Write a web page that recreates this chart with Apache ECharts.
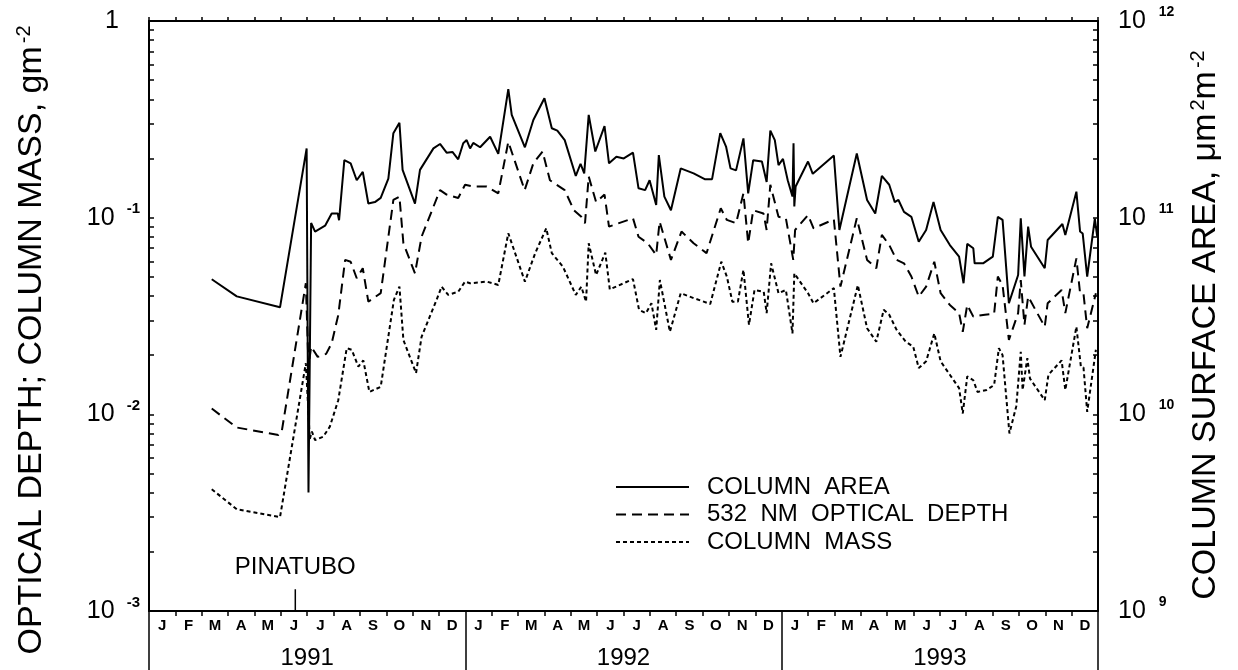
<!DOCTYPE html>
<html><head><meta charset="utf-8">
<script src="https://cdn.jsdelivr.net/npm/echarts@6/dist/echarts.min.js"></script>
<style>html,body{margin:0;padding:0;background:#fff}#c{width:1238px;height:670px}</style>
</head><body><div id="c"></div>
<script>
// ---- data (x = months since 1 Jan 1991) ----
const months = ['J','F','M','A','M','J','J','A','S','O','N','D'];
const years = ['1991','1992','1993'];
const leftDecades = [0.001, 0.01, 0.1, 1];
const rightDecades = [1e9, 1e10, 1e11, 1e12];

const areaMonth = [2.38,3.33,4.97,5.98,6.05,6.15,6.30,6.68,6.93,7.16,7.21,7.41,7.65,7.88,8.11,8.32,8.57,8.79,9.08,9.27,9.50,9.62,10.09,10.28,10.79,11.04,11.29,11.51,11.73,11.92,12.05,12.18,12.30,12.56,12.94,13.25,13.63,13.76,14.26,14.58,15.00,15.28,15.49,15.77,16.19,16.37,16.51,16.68,16.93,17.28,17.45,17.73,18.01,18.36,18.57,18.82,18.99,19.24,19.34,19.55,19.80,20.17,20.66,21.08,21.36,21.67,21.89,22.06,22.27,22.55,22.73,22.92,23.25,23.43,23.57,23.74,23.88,24.05,24.23,24.41,24.45,24.48,24.53,25.00,25.18,25.98,26.19,26.85,27.24,27.55,27.80,28.08,28.29,28.43,28.64,28.92,29.20,29.48,29.76,30.03,30.38,30.73,30.90,31.04,31.27,31.32,31.64,32.01,32.20,32.38,32.62,32.97,33.07,33.21,33.35,33.46,33.98,34.09,34.65,34.76,35.18,35.32,35.42,35.59,35.88,35.97];
const areaValue = [4.86e10,3.98e10,3.50e10,2.25e11,4.0e9,9.4e10,8.5e10,9.1e10,1.05e11,1.05e11,9.7e10,1.96e11,1.89e11,1.55e11,1.71e11,1.18e11,1.20e11,1.26e11,1.58e11,2.69e11,3.04e11,1.75e11,1.18e11,1.75e11,2.25e11,2.37e11,2.14e11,2.16e11,1.98e11,2.39e11,2.48e11,2.25e11,2.40e11,2.28e11,2.58e11,2.11e11,4.50e11,3.33e11,2.28e11,3.14e11,4.05e11,2.85e11,2.77e11,2.48e11,1.63e11,1.88e11,1.68e11,3.33e11,2.17e11,2.92e11,1.89e11,2.04e11,2.00e11,2.14e11,1.41e11,1.38e11,1.55e11,1.16e11,2.08e11,1.28e11,1.09e11,1.78e11,1.68e11,1.57e11,1.57e11,2.69e11,2.30e11,1.78e11,1.74e11,2.53e11,1.33e11,1.96e11,1.93e11,1.52e11,2.77e11,2.48e11,1.85e11,1.99e11,1.55e11,1.28e11,2.39e11,1.14e11,1.44e11,1.93e11,1.67e11,2.07e11,8.66e10,2.12e11,1.23e11,1.05e11,1.63e11,1.47e11,1.20e11,1.23e11,1.07e11,1.01e11,7.55e10,8.66e10,1.20e11,8.66e10,7.26e10,6.34e10,4.64e10,7.36e10,6.99e10,5.86e10,5.86e10,6.34e10,1.01e11,9.74e10,3.67e10,5.11e10,9.93e10,5.02e10,9.00e10,7.12e10,5.53e10,7.70e10,9.29e10,8.17e10,1.356e11,8.50e10,8.30e10,5.02e10,9.90e10,8.0e10];

const depthMonth = [2.38,3.33,4.91,5.03,5.95,6.05,6.15,6.40,6.72,6.93,7.18,7.44,7.65,7.88,8.11,8.32,8.79,9.27,9.50,9.65,10.09,10.34,11.04,11.29,11.73,11.99,12.30,12.81,13.25,13.63,14.25,14.58,14.93,15.21,15.77,16.12,16.40,16.54,16.68,16.96,17.28,17.45,18.36,18.57,18.92,19.24,19.37,19.80,20.20,20.66,21.15,21.69,21.92,22.27,22.55,22.73,22.92,23.31,23.43,23.57,23.88,24.16,24.44,24.51,25.00,25.21,25.98,26.23,26.85,27.24,27.59,27.80,28.08,28.36,28.64,28.92,29.20,29.48,29.79,30.03,30.38,30.73,30.87,31.04,31.27,31.71,32.06,32.20,32.38,32.62,32.97,33.07,33.21,33.35,33.98,34.09,34.62,34.76,35.18,35.32,35.45,35.59,35.92];
const depthValue = [0.0107,0.00857,0.00786,0.0081,0.0464,0.0175,0.0221,0.0196,0.0203,0.023,0.032,0.061,0.0597,0.0492,0.0553,0.0374,0.0413,0.123,0.128,0.0741,0.0521,0.080,0.138,0.131,0.126,0.147,0.144,0.144,0.133,0.243,0.138,0.189,0.217,0.155,0.138,0.109,0.101,0.0937,0.162,0.120,0.131,0.090,0.0993,0.080,0.0741,0.0646,0.0956,0.061,0.085,0.0741,0.066,0.1116,0.0974,0.0937,0.133,0.0741,0.109,0.105,0.0866,0.147,0.101,0.0993,0.061,0.0866,0.103,0.0883,0.098,0.0446,0.0993,0.061,0.0553,0.0817,0.0726,0.061,0.0586,0.0502,0.0397,0.0446,0.0597,0.0413,0.036,0.0327,0.0263,0.036,0.0314,0.0321,0.0325,0.0502,0.0454,0.0239,0.0327,0.0482,0.0285,0.0397,0.0279,0.0367,0.0429,0.0327,0.0621,0.0413,0.041,0.0274,0.0413];

const massMonth = [2.38,3.33,4.97,5.95,6.10,6.18,6.30,6.61,6.86,7.18,7.50,7.69,7.94,8.13,8.36,8.79,9.29,9.50,9.65,10.13,10.34,10.91,11.10,11.35,11.73,11.99,12.18,12.81,13.25,13.63,14.26,14.65,15.07,15.28,15.70,16.19,16.40,16.58,16.68,16.96,17.31,17.48,18.36,18.59,18.85,19.06,19.24,19.38,19.76,20.17,20.66,21.29,21.71,21.92,22.13,22.34,22.55,22.76,22.97,23.32,23.43,23.60,23.88,24.16,24.41,24.48,25.00,25.21,25.98,26.23,26.89,27.24,27.59,27.87,28.08,28.36,28.71,28.99,29.20,29.48,29.79,30.03,30.38,30.73,30.87,31.04,31.27,31.43,31.78,32.06,32.24,32.38,32.64,32.90,33.07,33.14,33.32,33.42,33.98,34.12,34.62,34.76,35.18,35.35,35.45,35.59,35.92];
const massValue = [0.00416,0.00329,0.0030,0.0182,0.0075,0.00817,0.0074,0.0077,0.00866,0.0118,0.0217,0.0213,0.0175,0.0188,0.0130,0.0138,0.0382,0.0446,0.0239,0.0162,0.0248,0.0382,0.0446,0.0405,0.042,0.0473,0.0464,0.0473,0.0455,0.0833,0.0473,0.066,0.0883,0.066,0.0564,0.0405,0.0446,0.0374,0.0741,0.0511,0.0664,0.0432,0.0487,0.034,0.0327,0.0367,0.0269,0.0482,0.0263,0.0413,0.039,0.0364,0.0597,0.0502,0.0374,0.0374,0.0543,0.0285,0.0429,0.042,0.0327,0.0586,0.0413,0.0429,0.0258,0.0521,0.0413,0.0367,0.0438,0.0196,0.0454,0.0274,0.0234,0.034,0.0321,0.0269,0.0234,0.0221,0.0172,0.0186,0.0258,0.0186,0.0159,0.0136,0.0101,0.0156,0.0149,0.013,0.0133,0.0141,0.0217,0.020,0.0080,0.011,0.0208,0.0133,0.0193,0.0152,0.0118,0.0159,0.0188,0.0133,0.0279,0.0175,0.0173,0.0103,0.0213];

const pinatuboMonth = 5.55;
const pinatuboTick = [0.00129, 0.001];
const pinatuboText = 0.00166;

// ---- chart ----
const FONT = '"Liberation Sans", Arial, Helvetica, sans-serif';
function allTicks(decs){ const out=[]; for(let i=0;i<decs.length-1;i++){ for(let m=1;m<10;m++) out.push(m*decs[i]); } out.push(decs[decs.length-1]); return out; }
function zip(a,b){ return a.map((t,i)=>[t,b[i]]); }
function leftLabel(v){ const e=Math.round(Math.log10(v)); return e===0 ? '{one|1}' : '{b|10}{s|'+e+'}'; }
function rightLabel(v){ const e=Math.round(Math.log10(v)); return '{b|10}{s|'+e+'}'; }
const monthCats = []; for(let y=0;y<years.length;y++) for(let m=0;m<12;m++) monthCats.push('m'+(y*12+m));

const chart = echarts.init(document.getElementById('c'));
const black = '#000';
const titleRich = {m:{fontSize:34,lineHeight:36,fontFamily:FONT,fill:black},s:{fontSize:20,lineHeight:20,verticalAlign:'top',padding:[0,0,18,3],fontFamily:FONT,fill:black}};
chart.setOption({
  animation:false,
  backgroundColor:'#fff',
  textStyle:{fontFamily:FONT, color:black},
  grid:{left:149,right:140,top:21,bottom:59,containLabel:false,outerBoundsMode:'none'},
  xAxis:[
    {type:'value',min:0,max:36,position:'bottom',axisLine:{show:true,lineStyle:{color:black,width:2}},axisTick:{show:false},axisLabel:{show:false},splitLine:{show:false}},
    {type:'category',data:monthCats,position:'bottom',boundaryGap:true,axisLine:{show:false},
     axisTick:{show:true,interval:0,length:5,lineStyle:{color:black,width:1.5}},
     axisLabel:{interval:0,margin:7,fontSize:15,fontWeight:'bold',color:black,fontFamily:FONT,formatter:(v,i)=>months[i%12]},splitLine:{show:false}},
    {type:'category',data:years,position:'bottom',boundaryGap:true,axisLine:{show:false},
     axisTick:{show:true,interval:0,length:59,lineStyle:{color:black,width:1.5}},
     axisLabel:{interval:0,margin:35,fontSize:24,color:black,fontFamily:FONT},splitLine:{show:false}},
    {type:'category',data:monthCats,position:'top',boundaryGap:true,axisLine:{show:true,lineStyle:{color:black,width:2}},
     axisTick:{show:true,interval:0,length:4,lineStyle:{color:black,width:1.5}},axisLabel:{show:false},splitLine:{show:false}}
  ],
  yAxis:[
    {type:'log',logBase:10,min:leftDecades[0],max:leftDecades[leftDecades.length-1],position:'left',
     axisLine:{show:true,lineStyle:{color:black,width:2}},
     axisTick:{show:true,inside:true,length:5,customValues:allTicks(leftDecades),lineStyle:{color:black,width:1.5}},
     splitLine:{show:false},minorTick:{show:false},
     axisLabel:{margin:9,color:black,formatter:leftLabel,rich:{
       one:{fontSize:25,lineHeight:32,padding:[0,21,0,0],fontFamily:FONT,color:black},
       b:{fontSize:25,lineHeight:32,fontFamily:FONT,color:black},
       s:{fontSize:15,lineHeight:15,fontWeight:'bold',verticalAlign:'top',padding:[0,0,0,12],fontFamily:FONT,color:black}}}},
    {type:'log',logBase:10,min:rightDecades[0],max:rightDecades[rightDecades.length-1],position:'right',
     axisLine:{show:true,lineStyle:{color:black,width:2}},
     axisTick:{show:true,inside:true,length:5,customValues:allTicks(rightDecades),lineStyle:{color:black,width:1.5}},
     splitLine:{show:false},minorTick:{show:false},
     axisLabel:{margin:20,color:black,formatter:rightLabel,rich:{
       b:{fontSize:25,lineHeight:32,fontFamily:FONT,color:black},
       s:{fontSize:14,lineHeight:14,fontWeight:'bold',verticalAlign:'top',padding:[0,0,0,13],fontFamily:FONT,color:black}}}}
  ],
  legend:{data:['COLUMN  AREA','532  NM  OPTICAL  DEPTH','COLUMN  MASS'],orient:'vertical',left:615,top:475,padding:0,
    itemWidth:73,itemHeight:14,itemGap:3.5,selectedMode:false,
    itemStyle:{opacity:0,borderWidth:0},
    textStyle:{fontSize:24,color:black,fontFamily:FONT,padding:[0,0,0,13]}},
  series:[
    {name:'COLUMN  AREA',type:'line',xAxisIndex:0,yAxisIndex:1,data:zip(areaMonth,areaValue),symbol:'none',
     lineStyle:{color:black,width:2,type:'solid'},itemStyle:{color:black},z:3},
    {name:'532  NM  OPTICAL  DEPTH',type:'line',xAxisIndex:0,yAxisIndex:0,data:zip(depthMonth,depthValue),symbol:'none',
     lineStyle:{color:black,width:2,type:[10,6]},itemStyle:{color:black},z:3},
    {name:'COLUMN  MASS',type:'line',xAxisIndex:0,yAxisIndex:0,data:zip(massMonth,massValue),symbol:'none',
     lineStyle:{color:black,width:2,type:[4,3]},itemStyle:{color:black},z:3},
    {name:'pinatuboTick',type:'line',xAxisIndex:0,yAxisIndex:0,data:pinatuboTick.map(v=>[pinatuboMonth,v]),symbol:'none',
     lineStyle:{color:black,width:1.5},silent:true,z:4}
  ],
  graphic:[
    {type:'text',x:32,y:340,rotation:Math.PI/2,silent:true,style:{text:'{m|OPTICAL DEPTH; COLUMN MASS, gm}{s|-2}',align:'center',verticalAlign:'middle',fill:black,rich:titleRich}},
    {type:'text',x:1206,y:325,rotation:Math.PI/2,silent:true,style:{text:'{m|COLUMN SURFACE AREA, μm}{s|2}{m|m}{s|-2}',align:'center',verticalAlign:'middle',fill:black,rich:titleRich}}
  ]
});
// PINATUBO annotation placed through the axis scales
const pinPos = chart.convertToPixel({xAxisIndex:0,yAxisIndex:0},[pinatuboMonth,pinatuboText]);
chart.setOption({graphic:[{},{},{type:'text',x:pinPos[0],y:pinPos[1],silent:true,style:{text:'PINATUBO',align:'center',verticalAlign:'middle',fill:black,fontSize:24,fontFamily:FONT}}]});
</script>
</body></html>
